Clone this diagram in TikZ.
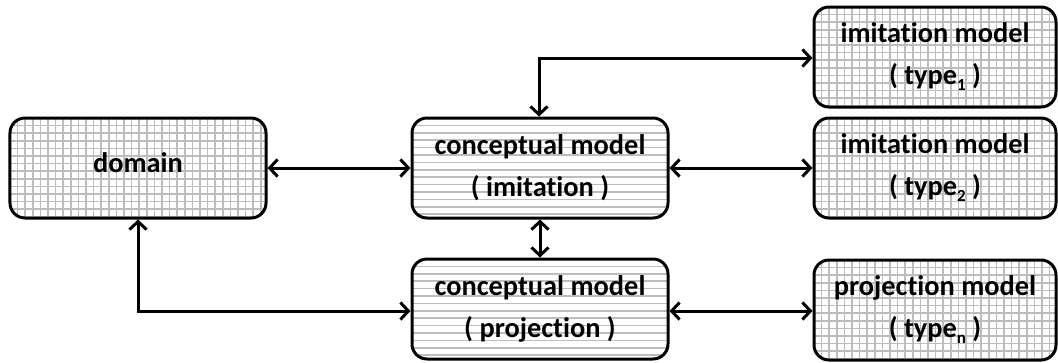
\documentclass[tikz,border=0pt]{standalone}
\usepackage{fontspec}
\setmainfont{Carlito}[Ligatures=NoCommon]
\usetikzlibrary{arrows.meta}
\definecolor{gridgray}{HTML}{BDBDBD}
\newcommand{\subs}[1]{\raisebox{-0.45ex}{\fontsize{17}{17}\selectfont #1}}
\tikzset{
  box/.style={draw=black, line width=3bp, rounded corners=15bp, fill=white,
    minimum width=256bp, minimum height=100bp, inner sep=0pt, align=center,
    font=\fontsize{28.5}{42}\selectfont\bfseries},
  gridfill/.style={path picture={
    \foreach \k in {0,...,40}{
      \draw[gridgray, line width=1.5bp]
        ([xshift=\k*7.6bp]path picture bounding box.north west) --
        ([xshift=\k*7.6bp]path picture bounding box.south west);
    }
    \foreach \k in {0,...,14}{
      \draw[gridgray, line width=1.5bp]
        ([yshift=-\k*7.6bp]path picture bounding box.north west) --
        ([yshift=-\k*7.6bp]path picture bounding box.north east);
    }}},
  hfill/.style={path picture={
    \foreach \k in {0,...,14}{
      \draw[gridgray, line width=1.5bp]
        ([yshift=-\k*7.4bp]path picture bounding box.north west) --
        ([yshift=-\k*7.4bp]path picture bounding box.north east);
    }}},
  conn/.style={line width=3bp, {Straight Barb[length=8bp,width=17bp,line width=3bp]}-{Straight Barb[length=8bp,width=17bp,line width=3bp]}},
}
\begin{document}
\begin{tikzpicture}[x=1bp,y=-1bp]
\useasboundingbox (0,0) rectangle (1058,362);
\node[box, gridfill] (dom) at (138,168) {\raisebox{11bp}{domain}};
\node[box, hfill] (cmi) at (540,168) {conceptual model\\( imitation )};
\node[box, hfill] (cmp) at (540,309) {conceptual model\\( projection )};
\node[box, gridfill, minimum width=242bp] (im1) at (935,57) {imitation model\\( type\subs{1} )};
\node[box, gridfill, minimum width=242bp] (im2) at (935,168) {imitation model\\( type\subs{2} )};
\node[box, gridfill, minimum width=242bp] (pm) at (935,310) {projection model\\( type\subs{n} )};
\coordinate (c1) at (539,58);
\coordinate (c2) at (138,311);
\draw[conn] (dom.east) -- (cmi.west);
\draw[conn] (cmi.east) -- (im2.west);
\draw[conn] (cmi.south) -- (cmp.north);
\draw[conn] (cmp.east |- 0,311) -- (pm.west |- 0,311);
\draw[conn] (cmi.north -| c1) -- (c1) -- (im1.west |- c1);
\draw[conn] (dom.south -| c2) -- (c2) -- (cmp.west |- c2);
\end{tikzpicture}
\end{document}
